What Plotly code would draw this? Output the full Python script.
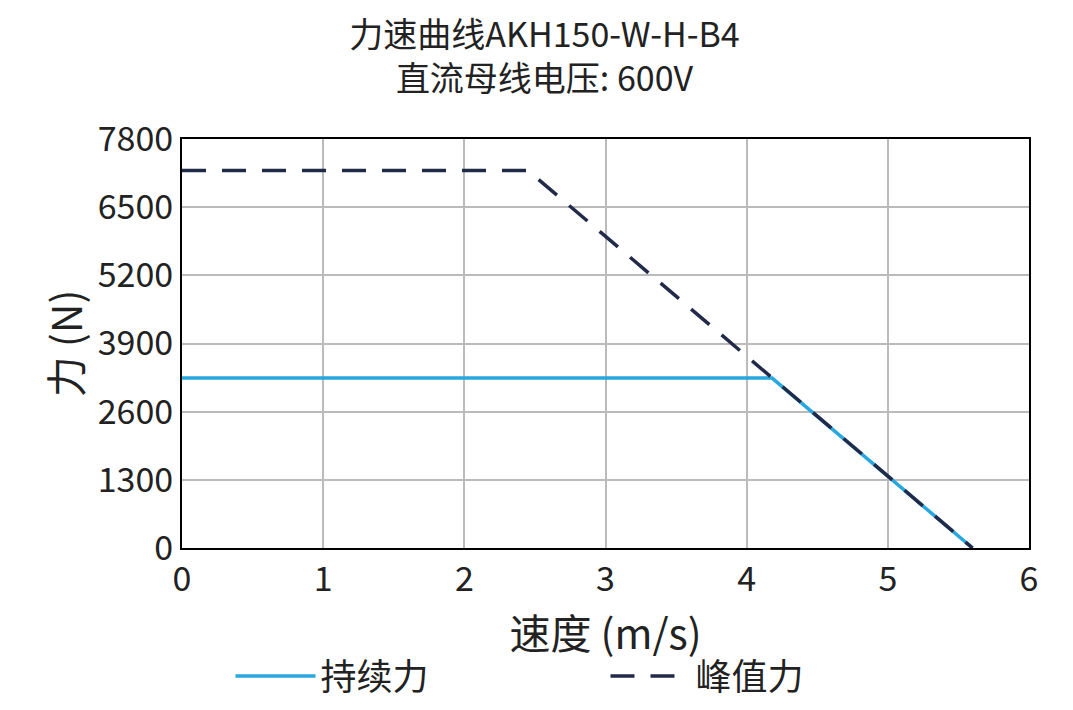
import plotly.graph_objects as go

cont_x = [0, 4.18, 5.6]
cont_y = [3240, 3240, 0]
peak_x = [0, 2.45, 5.6]
peak_y = [7200, 7200, 0]
y_ticks = [0, 1300, 2600, 3900, 5200, 6500, 7800]

font = "Noto Sans CJK SC"
fig = go.Figure()
fig.add_trace(go.Scatter(x=cont_x, y=cont_y, mode="lines", name="持续力",
                         line=dict(color="#29a8e0", width=3.5)))
fig.add_trace(go.Scatter(x=peak_x, y=peak_y, mode="lines", name="峰值力",
                         line=dict(color="#222a4a", width=3.5, dash="24px,16px")))
fig.update_layout(
    width=1073, height=710, plot_bgcolor="white", paper_bgcolor="white",
    font=dict(family=font, size=34, color="#222"),
    title=dict(text="力速曲线AKH150-W-H-B4<br>直流母线电压: 600V", x=0.5, y=0.945,
               xanchor="center", yanchor="top", font=dict(size=34)),
    margin=dict(l=174, r=52, t=131, b=161),
    legend=dict(orientation="h", x=0.5, xanchor="center", y=-0.24, yanchor="top",
                font=dict(size=36), itemwidth=80, entrywidth=280),
    xaxis=dict(range=[0, 6], dtick=1, showgrid=True, gridcolor="#bbb", gridwidth=1.5,
               showline=True, linecolor="black", linewidth=2, mirror=True,
               zeroline=False, ticks="", title=dict(text="速度 (m/s)", standoff=2)),
    yaxis=dict(range=[0, 7800], tickvals=y_ticks, showgrid=True, gridcolor="#bbb", gridwidth=1.5,
               showline=True, linecolor="black", linewidth=2, mirror=True,
               zeroline=False, ticks="", title=dict(text="力 (N)", standoff=2)),
)
fig.write_html("out.html")
